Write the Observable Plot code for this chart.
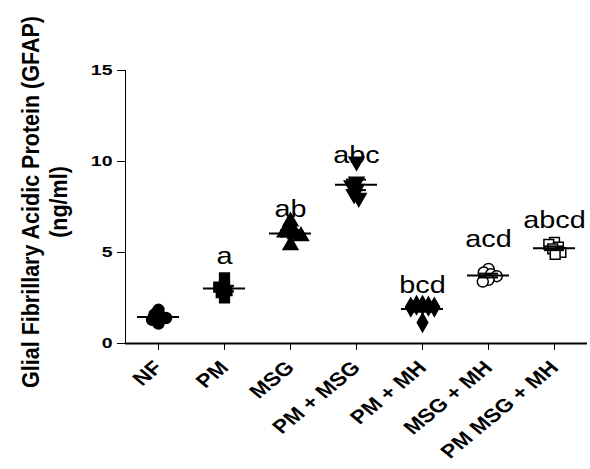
<!DOCTYPE html>
<html>
<head>
<meta charset="utf-8">
<script src="https://cdn.jsdelivr.net/npm/d3@7"></script>
<script src="https://cdn.jsdelivr.net/npm/@observablehq/plot@0.6"></script>
<style>
  html, body { margin: 0; padding: 0; background: #fff; }
  #chart { position: relative; width: 590px; height: 469px; }
  svg { font-family: "Liberation Sans", Arial, sans-serif; }
</style>
</head>
<body>
<div id="chart"></div>
<script>
// ---- data ----
const groups = ["NF", "PM", "MSG", "PM + MSG", "PM + MH", "MSG + MH", "PM MSG + MH"];
const valNF = [1.85, 1.6, 1.5, 1.4, 1.3, 1.1];
const valPM = [3.6, 3.2, 3.1, 2.9, 2.8, 2.5];
const valMSG = [6.7, 6.2, 6.1, 6.0, 5.9, 5.4];
const valPMMSG = [10.0, 8.9, 8.7, 8.5, 8.2, 8.0];
const valPMMH = [2.1, 2.1, 2.05, 2.0, 2.0, 1.15];
const valMSGMH = [4.1, 3.9, 3.8, 3.7, 3.5, 3.4];
const valPMMSGMH = [5.55, 5.45, 5.3, 5.2, 5.0, 4.9];
const letters = ["", "a", "ab", "abc", "bcd", "acd", "abcd"];
const letterY = [null, 4.8, 7.4, 10.35, 3.18, 5.72, 6.78];
const openMarker = [false, false, false, false, false, true, true];
const yTicks = [0, 5, 10, 15];

const seriesValues = [valNF, valPM, valMSG, valPMMSG, valPMMH, valMSGMH, valPMMSGMH];

// table for Plot
const points = [];
groups.forEach((g, i) => {
  seriesValues[i].forEach(v => points.push({
    group: g, value: v, letter: letters[i], letterY: letterY[i],
    fill: openMarker[i] ? "white" : "black"
  }));
});

const sqrt3 = Math.sqrt(3);
const triangleDown = {
  draw(context, size) {
    const y = -Math.sqrt(size / (sqrt3 * 3));
    context.moveTo(0, -y * 2);
    context.lineTo(-sqrt3 * y, y);
    context.lineTo(sqrt3 * y, y);
    context.closePath();
  }
};

const sem = v => d3.deviation(v) / Math.sqrt(v.length);
const lo = v => d3.mean(v) - sem(v);
const hi = v => d3.mean(v) + sem(v);

const chart = Plot.plot({
  width: 590,
  height: 469,
  marginLeft: 122,
  marginRight: 1,
  marginTop: 70,
  marginBottom: 126,
  style: {fontFamily: "Liberation Sans, Arial, sans-serif", fontWeight: "bold", color: "black", background: "white"},
  facet: {data: points, x: "group", marginBottom: 126},
  fx: {domain: groups, padding: 0, axis: "bottom", tickRotate: -45, tickSize: 7, tickPadding: 14, label: null},
  y: {domain: [0, 15], ticks: yTicks, tickFormat: d => String(d), tickSize: 8, tickPadding: 5, line: true, label: null},
  symbol: {domain: groups, range: [d3.symbolCircle, d3.symbolSquare, d3.symbolTriangle, triangleDown, d3.symbolDiamond, d3.symbolCircle, d3.symbolSquare]},
  marks: [
    Plot.ruleY([0], {stroke: "black", strokeWidth: 2}),
    Plot.ruleX(points, Plot.groupZ({y1: lo, y2: hi}, {y1: "value", y2: "value", stroke: "black", strokeWidth: 2})),
    Plot.dot(points, Plot.dodgeX({anchor: "middle", padding: -5}, {
      y: "value", r: 5.5, symbol: "group", fill: "fill", stroke: "black", strokeWidth: 1.5
    })),
    Plot.tickY(points, Plot.groupZ({y: "mean"}, {y: "value", stroke: "black", strokeWidth: 2, insetLeft: 12, insetRight: 12})),
    Plot.tickY(points, Plot.groupZ({y: lo}, {y: "value", stroke: "black", strokeWidth: 2, insetLeft: 23, insetRight: 23})),
    Plot.tickY(points, Plot.groupZ({y: hi}, {y: "value", stroke: "black", strokeWidth: 2, insetLeft: 23, insetRight: 23})),
    Plot.text(points, Plot.groupZ({text: "first", y: "first"}, {text: "letter", y: "letterY", fontSize: 24, fontWeight: "normal", fill: "black"}))
  ]
});

document.getElementById("chart").appendChild(chart);

const svgNode = chart.tagName.toLowerCase() === "svg" ? chart : chart.querySelector("svg");
const svg = d3.select(svgNode);

// the reference's lettering is slightly wide: stretch texts horizontally
function stretch(el, sx) {
  let tr = el.getAttribute("transform");
  if (!tr) {
    const x = el.getAttribute("x") || 0;
    tr = `translate(${x},0)`;
    el.removeAttribute("x");
  }
  if (tr.includes("rotate(")) tr = tr.replace("rotate(", `scale(${sx},1) rotate(`);
  else tr = tr + ` scale(${sx},1)`;
  el.setAttribute("transform", tr);
}

const yTickText = yTicks.map(String);
svg.selectAll("text").each(function () {
  const s = this.textContent;
  if (yTickText.includes(s)) {
    this.style.fontSize = "15px";
    this.style.fontWeight = "bold";
    stretch(this, 1.3);
  } else if (groups.includes(s)) {
    this.style.fontSize = "19px";
    this.style.fontWeight = "bold";
    stretch(this, 1.21);
  } else if (s && letters.includes(s)) {
    stretch(this, 1.2);
  }
});

// y-axis title (two lines, rotated)
const t = svg.append("g")
  .attr("transform", "translate(31,202) scale(1.1,1) rotate(-90)")
  .append("text")
  .attr("text-anchor", "middle")
  .attr("font-size", "21.5px")
  .attr("font-weight", "bold")
  .attr("fill", "black");
t.append("tspan").attr("x", 0).attr("dy", "0.35em").text("Glial Fibrillary Acidic Protein (GFAP)");
t.append("tspan").attr("x", 0).attr("dy", "25px").text("(ng/ml)");
</script>
</body>
</html>
